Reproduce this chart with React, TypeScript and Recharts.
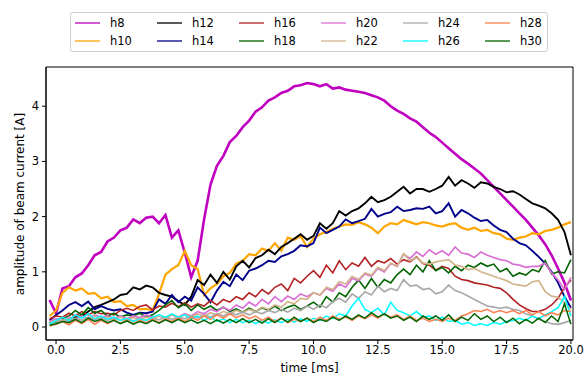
import { LineChart, Line, XAxis, YAxis, Label, CartesianGrid } from "recharts";

// sample times in ms, one every 0.25 ms from -0.25 to 20
const times = [
  -0.25, 0, 0.25, 0.5, 0.75, 1, 1.25, 1.5, 1.75, 2,
  2.25, 2.5, 2.75, 3, 3.25, 3.5, 3.75, 4, 4.25, 4.5,
  4.75, 5, 5.25, 5.5, 5.75, 6, 6.25, 6.5, 6.75, 7,
  7.25, 7.5, 7.75, 8, 8.25, 8.5, 8.75, 9, 9.25, 9.5,
  9.75, 10, 10.25, 10.5, 10.75, 11, 11.25, 11.5, 11.75, 12,
  12.25, 12.5, 12.75, 13, 13.25, 13.5, 13.75, 14, 14.25, 14.5,
  14.75, 15, 15.25, 15.5, 15.75, 16, 16.25, 16.5, 16.75, 17,
  17.25, 17.5, 17.75, 18, 18.25, 18.5, 18.75, 19, 19.25, 19.5,
  19.75, 20,
];

const h8 = [
  0.49, 0.25, 0.7, 0.74, 0.9, 0.97, 1.12, 1.3, 1.36, 1.55,
  1.62, 1.75, 1.8, 1.95, 1.88, 1.98, 2.0, 1.88, 2.03, 1.62,
  1.75, 1.35, 0.9, 1.2, 1.95, 2.58, 2.92, 3.1, 3.35, 3.46,
  3.62, 3.74, 3.9, 3.98, 4.1, 4.16, 4.24, 4.28, 4.36, 4.38,
  4.42, 4.4, 4.36, 4.4, 4.32, 4.34, 4.3, 4.28, 4.26, 4.24,
  4.2, 4.16, 4.1, 4.0, 3.92, 3.86, 3.78, 3.72, 3.62, 3.52,
  3.44, 3.34, 3.24, 3.14, 3.04, 2.96, 2.87, 2.78, 2.66, 2.54,
  2.42, 2.3, 2.18, 2.06, 1.94, 1.8, 1.66, 1.5, 1.3, 1.06,
  0.8, 0.48,
];
const h10 = [
  0.2, 0.3, 0.62, 0.72, 0.66, 0.7, 0.6, 0.62, 0.52, 0.55,
  0.45, 0.47, 0.38, 0.4, 0.32, 0.33, 0.3, 0.6, 0.95, 1.05,
  1.12, 1.38, 1.12, 1.05, 0.58, 0.7, 0.78, 0.92, 0.98, 1.15,
  1.2, 1.32, 1.3, 1.42, 1.38, 1.52, 1.38, 1.62, 1.58, 1.65,
  1.45, 1.6, 1.68, 1.72, 1.78, 1.82, 1.86, 1.85, 1.9, 1.86,
  1.8, 1.7, 1.82, 1.88, 1.86, 1.94, 1.9, 1.86, 1.9, 1.88,
  1.84, 1.82, 1.86, 1.88, 1.8, 1.76, 1.8, 1.74, 1.76, 1.7,
  1.68, 1.6, 1.58, 1.62, 1.64, 1.7, 1.68, 1.74, 1.76, 1.8,
  1.86, 1.9,
];
const h12 = [
  0.08, 0.1, 0.12, 0.15, 0.18, 0.2, 0.28, 0.36, 0.4, 0.45,
  0.5, 0.58, 0.6, 0.72, 0.68, 0.75, 0.72, 0.62, 0.58, 0.55,
  0.47, 0.4, 0.55, 0.85, 0.76, 0.95, 0.8, 1.0, 0.86, 1.1,
  1.2, 1.08, 1.25, 1.3, 1.4, 1.32, 1.45, 1.52, 1.6, 1.68,
  1.58, 1.65, 1.88, 1.78, 1.88, 2.1, 2.02, 2.1, 2.15, 2.24,
  2.36, 2.26, 2.3, 2.36, 2.45, 2.54, 2.42, 2.5, 2.5, 2.45,
  2.5, 2.56, 2.72, 2.56, 2.66, 2.6, 2.52, 2.62, 2.6, 2.54,
  2.5, 2.44, 2.46, 2.4, 2.32, 2.24, 2.2, 2.15, 2.06, 1.94,
  1.72, 1.3,
];
const h14 = [
  0.12, 0.22, 0.3, 0.4, 0.45, 0.38, 0.46, 0.32, 0.38, 0.33,
  0.3, 0.32, 0.26, 0.22, 0.26, 0.25, 0.28, 0.5, 0.42, 0.58,
  0.45, 0.55, 0.48, 0.72, 0.6, 0.45, 0.66, 0.82, 0.74, 0.95,
  0.85, 1.02, 1.06, 1.12, 1.2, 1.18, 1.28, 1.32, 1.38, 1.48,
  1.46, 1.52, 1.8, 1.7, 1.76, 1.82, 1.95, 1.88, 1.92, 1.96,
  2.14, 2.0, 2.05, 2.08, 2.18, 2.1, 2.12, 2.15, 2.14, 2.18,
  2.06, 2.1, 2.24, 2.0, 2.12, 2.06, 1.98, 1.92, 1.94, 1.84,
  1.76, 1.72, 1.6, 1.52, 1.48, 1.38, 1.27, 1.15, 1.0, 0.8,
  0.55, 0.35,
];
const h16 = [
  0.15, 0.2, 0.18, 0.25, 0.2, 0.28, 0.22, 0.28, 0.24, 0.25,
  0.22, 0.3, 0.34, 0.3, 0.37, 0.4, 0.31, 0.38, 0.36, 0.43,
  0.37, 0.44, 0.36, 0.42, 0.38, 0.48, 0.4, 0.5, 0.45, 0.55,
  0.5, 0.62, 0.55, 0.68, 0.6, 0.72, 0.78, 0.66, 0.88, 0.8,
  0.92, 1.02, 0.9, 1.12, 0.98, 1.2, 1.04, 1.16, 1.1, 1.26,
  1.1, 1.2, 1.16, 1.24, 1.14, 1.22, 1.18, 1.27, 1.15, 1.12,
  1.03, 1.1, 1.06, 0.92, 0.86, 0.84, 0.8, 0.78, 0.76, 0.72,
  0.7, 0.62, 0.5, 0.4, 0.33, 0.28, 0.28, 0.32, 0.4, 0.52,
  0.72, 0.85,
];
const h18 = [
  0.05, 0.1, 0.15, 0.2, 0.3, 0.22, 0.35, 0.25, 0.3, 0.2,
  0.25, 0.18, 0.22, 0.2, 0.25, 0.18, 0.22, 0.3, 0.4, 0.48,
  0.35, 0.42, 0.3, 0.4, 0.32, 0.38, 0.3, 0.36, 0.28, 0.33,
  0.27, 0.34, 0.28, 0.35, 0.3, 0.38, 0.3, 0.36, 0.4, 0.32,
  0.38, 0.45, 0.36, 0.55, 0.45, 0.62, 0.55, 0.72, 0.85, 0.7,
  0.88, 0.72, 0.86, 0.8, 0.95, 1.05, 0.95, 1.12, 1.0, 1.2,
  1.02, 1.08, 0.98, 1.1, 1.02, 1.12, 1.08, 1.16, 1.1, 1.14,
  1.0, 1.06, 0.92, 0.98, 0.94, 1.04, 1.0, 1.2, 0.96, 1.0,
  0.98, 1.22,
];
const h20 = [
  0.1, 0.15, 0.12, 0.18, 0.14, 0.2, 0.16, 0.22, 0.18, 0.2,
  0.16, 0.2, 0.15, 0.2, 0.17, 0.22, 0.18, 0.2, 0.16, 0.22,
  0.18, 0.24, 0.2, 0.28, 0.24, 0.32, 0.28, 0.36, 0.3, 0.4,
  0.34, 0.45, 0.38, 0.5, 0.42, 0.55, 0.46, 0.56, 0.5, 0.6,
  0.55, 0.62, 0.58, 0.7, 0.65, 0.78, 0.72, 0.88, 0.84, 0.96,
  0.92, 1.06, 1.0, 1.15, 1.1, 1.32, 1.24, 1.36, 1.28, 1.4,
  1.32, 1.38, 1.3, 1.45, 1.34, 1.32, 1.26, 1.36, 1.3, 1.26,
  1.22, 1.2, 1.14, 1.12, 1.08, 1.1, 1.1, 1.16, 0.98, 0.85,
  0.68, 0.9,
];
const h22 = [
  0.08, 0.12, 0.1, 0.16, 0.12, 0.18, 0.14, 0.2, 0.15, 0.18,
  0.14, 0.18, 0.13, 0.17, 0.14, 0.18, 0.15, 0.2, 0.16, 0.22,
  0.18, 0.22, 0.18, 0.24, 0.2, 0.26, 0.22, 0.28, 0.24, 0.3,
  0.26, 0.32, 0.28, 0.36, 0.32, 0.4, 0.36, 0.46, 0.42, 0.52,
  0.5, 0.62, 0.58, 0.72, 0.68, 0.82, 0.78, 0.92, 0.86, 0.98,
  0.94, 1.08, 1.02, 1.16, 1.1, 1.33, 1.2, 1.26, 1.16, 1.14,
  1.18, 1.2, 1.22, 1.12, 1.1, 1.04, 1.06, 1.0, 0.96, 0.92,
  0.88, 0.84, 0.78, 0.76, 0.74, 0.82, 0.84, 0.64, 0.56, 0.54,
  0.44, 0.32,
];
const h24 = [
  0.06, 0.1, 0.14, 0.1, 0.16, 0.12, 0.18, 0.13, 0.17, 0.12,
  0.16, 0.12, 0.15, 0.11, 0.15, 0.12, 0.16, 0.13, 0.18, 0.14,
  0.18, 0.15, 0.2, 0.16, 0.22, 0.18, 0.24, 0.2, 0.26, 0.22,
  0.27, 0.22, 0.28, 0.24, 0.3, 0.26, 0.32, 0.27, 0.34, 0.3,
  0.38, 0.32, 0.4, 0.35, 0.46, 0.52, 0.45, 0.6, 0.52, 0.64,
  0.58, 0.74, 0.64, 0.7, 0.66, 0.86, 0.74, 0.76, 0.68, 0.7,
  0.6, 0.64, 0.76, 0.66, 0.62, 0.56, 0.5, 0.44, 0.38, 0.36,
  0.34, 0.36, 0.32, 0.3, 0.24, 0.2, 0.14, 0.1, 0.06, 0.05,
  0.08, 0.12,
];
const h26 = [
  0.05, 0.12, 0.18, 0.12, 0.22, 0.16, 0.24, 0.15, 0.2, 0.14,
  0.18, 0.12, 0.16, 0.1, 0.14, 0.12, 0.18, 0.22, 0.18, 0.24,
  0.18, 0.22, 0.15, 0.2, 0.12, 0.18, 0.1, 0.15, 0.08, 0.14,
  0.08, 0.12, 0.06, 0.12, 0.07, 0.13, 0.08, 0.14, 0.09, 0.15,
  0.1, 0.16, 0.12, 0.2, 0.15, 0.24, 0.2, 0.38, 0.52, 0.32,
  0.26, 0.34, 0.22, 0.45, 0.3, 0.26, 0.2, 0.28, 0.18, 0.2,
  0.12, 0.18, 0.1, 0.12, 0.05, 0.08, 0.03, 0.06, 0.03, 0.08,
  0.05, 0.1, 0.12, 0.16, 0.12, 0.2, 0.15, 0.22, 0.28, 0.35,
  0.55, 0.2,
];
const h28 = [
  0.02, 0.05, 0.1, 0.04, 0.12, 0.06, 0.14, 0.05, 0.12, 0.06,
  0.12, 0.07, 0.13, 0.06, 0.12, 0.08, 0.14, 0.08, 0.15, 0.1,
  0.16, 0.1, 0.18, 0.12, 0.2, 0.14, 0.22, 0.16, 0.24, 0.17,
  0.22, 0.15, 0.2, 0.12, 0.18, 0.1, 0.16, 0.08, 0.14, 0.1,
  0.16, 0.1, 0.18, 0.12, 0.2, 0.14, 0.18, 0.12, 0.2, 0.15,
  0.22, 0.16, 0.24, 0.18, 0.22, 0.14, 0.2, 0.12, 0.16, 0.1,
  0.14, 0.1, 0.16, 0.12, 0.2, 0.24, 0.3, 0.28, 0.32, 0.26,
  0.3, 0.26, 0.3, 0.24, 0.3, 0.22, 0.28, 0.2, 0.26, 0.22,
  0.3, 0.28,
];
const h30 = [
  0.03, 0.06, 0.1, 0.08, 0.14, 0.08, 0.16, 0.1, 0.14, 0.08,
  0.12, 0.06, 0.11, 0.05, 0.1, 0.06, 0.12, 0.07, 0.13, 0.08,
  0.14, 0.08, 0.13, 0.07, 0.12, 0.06, 0.13, 0.07, 0.14, 0.08,
  0.15, 0.08, 0.14, 0.07, 0.15, 0.08, 0.16, 0.09, 0.18, 0.1,
  0.16, 0.08, 0.14, 0.1, 0.18, 0.12, 0.2, 0.14, 0.22, 0.16,
  0.26, 0.18, 0.24, 0.16, 0.2, 0.12, 0.18, 0.1, 0.2, 0.14,
  0.2, 0.12, 0.22, 0.1, 0.18, 0.12, 0.24, 0.14, 0.2, 0.1,
  0.18, 0.08, 0.16, 0.06, 0.14, 0.07, 0.16, 0.08, 0.2, 0.1,
  0.42, 0.05,
];

const xTicks = [0, 2.5, 5, 7.5, 10, 12.5, 15, 17.5, 20];
const yTicks = [0, 1, 2, 3, 4];

const series = [
  { key: "h8", values: h8, color: "#bf00bf", width: 2.6 },
  { key: "h10", values: h10, color: "#ffa500", width: 2.2 },
  { key: "h12", values: h12, color: "#000000", width: 1.9 },
  { key: "h14", values: h14, color: "#00008b", width: 1.9 },
  { key: "h16", values: h16, color: "#b22222", width: 1.6 },
  { key: "h18", values: h18, color: "#006400", width: 1.6 },
  { key: "h20", values: h20, color: "#da70d6", width: 1.7 },
  { key: "h22", values: h22, color: "#d2b48c", width: 1.7 },
  { key: "h24", values: h24, color: "#a9a9a9", width: 1.7 },
  { key: "h26", values: h26, color: "#00ffff", width: 1.5 },
  { key: "h28", values: h28, color: "#ff7f50", width: 1.5 },
  { key: "h30", values: h30, color: "#006400", width: 1.5 },
];

const data = times.map((t, i) => {
  const row: Record<string, number> = { t };
  series.forEach((s) => (row[s.key] = s.values[i]));
  return row;
});

const font = "'DejaVu Sans', sans-serif";
const tickStyle = { fontSize: 11.5, fill: "#000", fontFamily: font };

function LegendBox() {
  // two rows, filled column by column
  const cols = [];
  for (let c = 0; c < 6; c++) cols.push(series.slice(c * 2, c * 2 + 2));
  return (
    <div
      style={{
        position: "absolute", left: 70, top: 12, width: 478, height: 40,
        border: "1px solid #d0d0d0", borderRadius: 3, background: "#fff",
        fontFamily: font, fontSize: 11.5, boxSizing: "border-box",
      }}
    >
      {cols.map((col, c) =>
        col.map((s, r) => (
          <div key={s.key} style={{ position: "absolute", left: 4 + c * 82, top: 2 + r * 18, height: 16, display: "flex", alignItems: "center" }}>
            <span style={{ display: "inline-block", width: 25, height: 0, borderTop: `2px solid ${s.color}`, opacity: 0.65 }} />
            <span style={{ marginLeft: 10 }}>{s.key}</span>
          </div>
        ))
      )}
    </div>
  );
}

export default function App() {
  return (
    <div style={{ position: "absolute", left: 0, top: 0, width: 587, height: 377, background: "#fff" }}>
      <LineChart width={587} height={377} data={data} margin={{ top: 67, right: 14, bottom: 0, left: 0 }}>
        {/* plot frame: lines on all four sides */}
        <CartesianGrid
          stroke="#000"
          strokeWidth={1}
          horizontalCoordinatesGenerator={({ offset }: any) => [offset.top, offset.top + offset.height]}
          verticalCoordinatesGenerator={({ offset }: any) => [offset.left, offset.left + offset.width]}
        />
        <XAxis
          dataKey="t" type="number" domain={[-0.39, 20.08]} ticks={xTicks} allowDataOverflow
          tickFormatter={(v: number) => v.toFixed(1)} tick={tickStyle} tickSize={4} tickMargin={2}
          height={37} stroke="#000" tickLine={{ stroke: "#000" }}
        >
          <Label value="time [ms]" position="insideBottom" offset={5} style={{ fontSize: 12, fill: "#000", fontFamily: font }} />
        </XAxis>
        <YAxis
          type="number" domain={[-0.235, 4.71]} ticks={yTicks} allowDataOverflow tick={tickStyle}
          tickSize={4} tickMargin={3} width={46} stroke="#000" tickLine={{ stroke: "#000" }}
        >
          <Label
            content={() => (
              <text x={20} y={204} transform="rotate(-90 20 204)" textAnchor="middle" dominantBaseline="middle" style={{ fontSize: 12, fontFamily: font }} fill="#000">
                amplitude of beam current [A]
              </text>
            )}
          />
        </YAxis>
        {series.map((s) => (
          <Line
            key={s.key} dataKey={s.key} type="linear" stroke={s.color} strokeWidth={s.width}
            dot={false} isAnimationActive={false} strokeLinejoin="miter"
          />
        ))}
      </LineChart>
      <LegendBox />
    </div>
  );
}
